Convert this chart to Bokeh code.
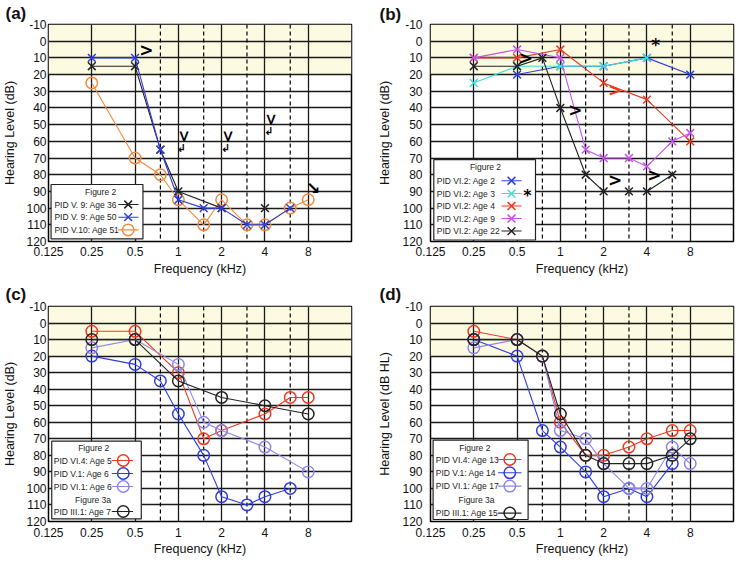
import math
from bokeh.plotting import figure
from bokeh.layouts import column, row
from bokeh.models import Range1d, FixedTicker, CustomJSTickFormatter, Span, BoxAnnotation
from bokeh.core.properties import value
from bokeh.embed import file_html
from bokeh.resources import INLINE

# ---------------- data ----------------
FREQ_TICKS = [0.125, 0.25, 0.5, 1, 2, 4, 8]
SOLID_F = [0.25, 0.5, 1, 2, 4, 8]
DASHED_F = [0.75, 1.5, 3, 6]
HL_TICKS = list(range(-10, 121, 10))

# Panel (a)
a36_f = [0.25, 0.5, 0.75, 1, 2, 4]
a36_hl = [15, 15, 65, 90, 100, 100]
a50_f = [0.25, 0.5, 0.75, 1, 1.5, 2, 3, 4, 6]
a50_hl = [10, 10, 65, 95, 100, 100, 110, 110, 100]
a51_f = [0.25, 0.5, 0.75, 1, 1.5, 2, 3, 4, 6, 8]
a51_hl = [25, 70, 80, 95, 110, 95, 110, 110, 100, 95]

# Panel (b)
b2_f = [0.5, 1, 2, 4, 8]
b2_hl = [20, 15, 15, 10, 20]
b3_f = [0.25, 0.5, 1, 2, 4]
b3_hl = [25, 15, 15, 15, 10]
b4_f = [0.25, 0.5, 1, 2, 4, 8]
b4_hl = [10, 10, 5, 25, 35, 60]
b9_f = [0.25, 0.5, 1, 1.5, 2, 3, 4, 6, 8]
b9_hl = [10, 5, 10, 65, 70, 70, 75, 60, 55]
b22_f = [0.25, 0.5, 0.75, 1, 1.5, 2, 3, 4, 6]
b22_hl = [15, 15, 10, 40, 80, 90, 90, 90, 80]

# Panel (c)
c_vi4_f = [0.25, 0.5, 1, 1.5, 2, 4, 6, 8]
c_vi4_hl = [5, 5, 30, 70, 65, 55, 45, 45]
c_v1_f = [0.25, 0.5, 0.75, 1, 1.5, 2, 3, 4, 6]
c_v1_hl = [20, 25, 35, 55, 80, 105, 110, 105, 100]
c_vi1_f = [0.25, 0.5, 1, 1.5, 2, 4, 8]
c_vi1_hl = [15, 10, 25, 60, 65, 75, 90]
c_iii1_f = [0.25, 0.5, 1, 2, 4, 8]
c_iii1_hl = [10, 10, 35, 45, 50, 55]

# Panel (d)
d_vi4_f = [0.25, 0.5, 0.75, 1, 1.5, 2, 3, 4, 6, 8]
d_vi4_hl = [5, 10, 20, 60, 80, 80, 75, 70, 65, 65]
d_v1_f = [0.25, 0.5, 0.75, 1, 1.5, 2, 3, 4, 6]
d_v1_hl = [10, 20, 65, 75, 90, 105, 100, 105, 85]
d_vi1_f = [0.25, 0.5, 0.75, 1, 1.5, 2, 3, 4, 6, 8]
d_vi1_hl = [15, 10, 20, 65, 70, 85, 100, 100, 75, 85]
d_iii1_f = [0.25, 0.5, 0.75, 1, 1.5, 2, 3, 4, 6, 8]
d_iii1_hl = [10, 10, 20, 55, 80, 85, 85, 85, 80, 70]

# No-response / annotation symbols
sym_a_f = [0.6, 8.7]
sym_a_hl = [5, 88]
sym_a_txt = [">", "\u2198"]
sym_a_rot_f = [1.09, 2.21, 4.42]
sym_a_rot_hl = [57, 57, 47]
sym_a_arrow_f = [1.05, 2.13, 4.26]
sym_a_arrow_hl = [64, 64, 54]

sym_b_f = [0.575, 1.27, 2.4, 4.5]
sym_b_hl = [10, 41, 83, 80]
sym_b_red_f = [2.4]
sym_b_red_hl = [29]
star_b_f = [4.6]
star_b_hl = [2]

BLACK = "#222222"
BLUE = "#2f3ddc"
ORANGE = "#f08a3c"
CYAN = "#3fdcdc"
RED = "#ea3a22"
MAGENTA = "#c552ea"
LPURPLE = "#8f86ea"

FONT = "Liberation Sans"


def make_panel(w, h, bl, br, bt, bb, letter, title_offset, title_standoff, ylabel,
               ylab_standoff, ytick_standoff, xtick_standoff, xlab_standoff):
    p = figure(width=w, height=h, x_axis_type="log",
               x_range=Range1d(0.125, 16), y_range=Range1d(120, -10),
               output_backend="svg", toolbar_location=None, tools="",
               min_border_left=bl, min_border_right=br,
               min_border_top=bt, min_border_bottom=bb)
    p.background_fill_color = "white"
    p.border_fill_color = "white"
    p.outline_line_color = "black"
    p.outline_line_width = 1.5
    p.outline_line_alpha = 1

    p.title.text = letter
    p.title.align = "left"
    p.title.offset = title_offset
    p.title.standoff = title_standoff
    p.title.text_font = FONT
    p.title.text_font_size = "17px"
    p.title.text_font_style = "bold"
    p.title.text_color = "#111111"

    p.xaxis.ticker = FixedTicker(ticks=FREQ_TICKS)
    p.xaxis.formatter = CustomJSTickFormatter(code="return String(tick)")
    p.yaxis.ticker = FixedTicker(ticks=HL_TICKS)
    p.yaxis.formatter = CustomJSTickFormatter(code="return String(tick)")
    for ax in (p.xaxis[0], p.yaxis[0]):
        ax.axis_line_color = None
        ax.major_tick_line_color = None
        ax.minor_tick_line_color = None
        ax.major_tick_out = 0
        ax.major_tick_in = 0
        ax.minor_tick_out = 0
        ax.minor_tick_in = 0
        ax.major_label_text_font = FONT
        ax.major_label_text_font_size = "12px"
        ax.major_label_text_color = "#111111"
        ax.axis_label_text_font = FONT
        ax.axis_label_text_font_size = "12.5px"
        ax.axis_label_text_font_style = "normal"
        ax.axis_label_text_color = "#111111"
    p.xaxis.major_label_standoff = xtick_standoff
    p.yaxis.major_label_standoff = ytick_standoff
    p.xaxis.axis_label = "Frequency (kHz)"
    p.xaxis.axis_label_standoff = xlab_standoff
    p.yaxis.axis_label = ylabel
    p.yaxis.axis_label_standoff = ylab_standoff

    p.xgrid.ticker = FixedTicker(ticks=SOLID_F)
    p.ygrid.ticker = FixedTicker(ticks=HL_TICKS)
    for g in (p.xgrid[0], p.ygrid[0]):
        g.grid_line_color = "#1a1a1a"
        g.grid_line_width = 1.3
        g.grid_line_alpha = 1

    band = BoxAnnotation(top=-10, bottom=20, fill_color="#fcfbe1", fill_alpha=1,
                         line_alpha=0, level="image")
    p.add_layout(band)
    for f in DASHED_F:
        p.add_layout(Span(location=f, dimension="height", line_color="black",
                          line_width=1.2, line_dash="4 3", level="underlay"))
    fw = w - bl - br
    fh = h - bt - bb
    return p, fw, fh


def to_data(px, py, fw, fh):
    return 0.125 * 2 ** (7.0 * px / fw), -10 + 130.0 * py / fh


def add_series(p, f, hl, color, marker, n_line=None):
    n = len(f) if n_line is None else n_line
    p.line(f[:n], hl[:n], line_color=color, line_width=1.1)
    sz = 11 if marker == "x" else 11.5
    p.scatter(f, hl, marker=marker, size=sz, line_color=color, fill_color=None,
              line_width=1.5)


def add_legend(p, fw, fh, dy, box, headers, rows, text_x, gx0, gx1, gc, series):
    l, t = to_data(box[0], box[1] + dy, fw, fh)
    r, b = to_data(box[2], box[3] + dy, fw, fh)
    p.quad(left=[l], right=[r], top=[t], bottom=[b], fill_color="white",
           line_color="#222222", line_width=1.2)
    for (txt, cx, cy) in headers:
        x, y = to_data(cx, cy + dy, fw, fh)
        p.text(x=[x], y=[y], text=[txt], text_font=value(FONT), text_font_size="8.5px",
               text_align="center", text_baseline="middle", text_color="#222222")
    for (ry, (label, color, marker)) in zip(rows, series):
        x, y = to_data(text_x, ry + dy, fw, fh)
        p.text(x=[x], y=[y], text=[label], text_font=value(FONT), text_font_size="8.5px",
               text_align="left", text_baseline="middle", text_color="#222222")
        x0, _ = to_data(gx0, ry + dy, fw, fh)
        x1, _ = to_data(gx1, ry + dy, fw, fh)
        xc, _ = to_data(gc, ry + dy, fw, fh)
        p.segment(x0=[x0], x1=[x1], y0=[y], y1=[y], line_color=color, line_width=1.1)
        sz = 11 if marker == "x" else 11.5
        p.scatter([xc], [y], marker=marker, size=sz, line_color=color, fill_color=None,
                  line_width=1.5)


# ---------------- panel (a) ----------------
pa, fwa, fha = make_panel(367, 278, 43, 16, 24, 37, "(a)", -43, 3,
                          "Hearing Level (dB)", 6, 2, 5, 3)
add_series(pa, a51_f, a51_hl, ORANGE, "circle")
add_series(pa, a36_f, a36_hl, BLACK, "x", n_line=5)
add_series(pa, a50_f, a50_hl, BLUE, "x")
pa.text(x=sym_a_f, y=sym_a_hl, text=sym_a_txt, text_font=value("DejaVu Sans"),
        text_font_size="17px", text_font_style="bold", text_align="center",
        text_baseline="middle", text_color="black")
pa.text(x=sym_a_rot_f, y=sym_a_rot_hl, text=[">"] * len(sym_a_rot_f), angle=-90, angle_units="deg",
        text_font=value("DejaVu Sans"), text_font_size="15px", text_font_style="bold",
        text_align="center", text_baseline="middle", text_color="black")
pa.text(x=sym_a_arrow_f, y=sym_a_arrow_hl, text=["\u21b2"] * len(sym_a_arrow_f),
        text_font=value("DejaVu Sans"), text_font_size="11px", text_font_style="bold",
        text_align="center", text_baseline="middle", text_color="black")
add_legend(pa, fwa, fha, 0, (2.6, 160, 96, 214.4), [("Figure 2", 53, 167.7)],
           [180, 192.7, 205.4], 6, 71, 91.5, 81,
           [("PID V. 9: Age 36", BLACK, "x"), ("PID V. 9: Age 50", BLUE, "x"),
            ("PID V.10: Age 51", ORANGE, "circle")])

# ---------------- panel (b) ----------------
pb, fwb, fhb = make_panel(368, 278, 63, 2, 21, 37, "(b)", -51, 1,
                          "Hearing Level (dB)", 7, 8, 5, 3)
add_series(pb, b2_f, b2_hl, BLUE, "x")
add_series(pb, b3_f, b3_hl, CYAN, "x")
add_series(pb, b4_f, b4_hl, RED, "x")
add_series(pb, b9_f, b9_hl, MAGENTA, "x")
add_series(pb, b22_f, b22_hl, BLACK, "x")
pb.text(x=sym_b_f, y=sym_b_hl, text=[">"] * len(sym_b_f), text_font=value("DejaVu Sans"),
        text_font_size="17px", text_font_style="bold", text_align="center",
        text_baseline="middle", text_color="black")
pb.text(x=sym_b_red_f, y=sym_b_red_hl, text=[">"], text_font=value("DejaVu Sans"),
        text_font_size="17px", text_font_style="bold", text_align="center",
        text_baseline="middle", text_color=RED)
pb.text(x=star_b_f, y=star_b_hl, text=["*"], text_font=value("DejaVu Sans"),
        text_font_size="17px", text_font_style="bold", text_align="center",
        text_baseline="middle", text_color="black")
add_legend(pb, fwb, fhb, 0, (3.3, 137, 105, 218.5), [("Figure 2", 55, 144)],
           [158.4, 171.4, 184, 196.7, 209.4], 6.3, 71, 91, 81,
           [("PID VI.2: Age 2", BLUE, "x"), ("PID VI.2: Age 3", CYAN, "x"),
            ("PID VI.2: Age 4", RED, "x"), ("PID VI.2: Age 9", MAGENTA, "x"),
            ("PID VI.2: Age 22", BLACK, "x")])
sx, sy = to_data(97, 173, fwb, fhb)
pb.text(x=[sx], y=[sy], text=["*"], text_font=value("DejaVu Sans"), text_font_size="16px",
        text_font_style="bold", text_align="center", text_baseline="middle", text_color="black")

# ---------------- panel (c) ----------------
pc, fwc, fhc = make_panel(367, 280, 43, 16, 28, 37, "(c)", -43, 5,
                          "Hearing Level (dB)", 6, 2, 6, 2)
add_series(pc, c_vi4_f, c_vi4_hl, RED, "circle")
add_series(pc, c_v1_f, c_v1_hl, BLUE, "circle")
add_series(pc, c_vi1_f, c_vi1_hl, LPURPLE, "circle")
add_series(pc, c_iii1_f, c_iii1_hl, BLACK, "circle")
add_legend(pc, fwc, fhc, fhc - 217, (3.3, 136.7, 94.3, 214.4),
           [("Figure 2", 46, 143.4), ("Figure 3a", 45.3, 195.3)],
           [156, 169, 182, 207], 5.3, 64.3, 86, 76,
           [("PID VI.4: Age 5", RED, "circle"), ("PID V.1: Age 6", BLUE, "circle"),
            ("PID VI.1: Age 6", LPURPLE, "circle"), ("PID III.1: Age 7", BLACK, "circle")])

# ---------------- panel (d) ----------------
pd_, fwd, fhd = make_panel(368, 280, 63, 2, 28, 37, "(d)", -51, 5,
                           "Hearing Level (dB HL)", 7, 8, 6, 2)
add_series(pd_, d_vi4_f, d_vi4_hl, RED, "circle")
add_series(pd_, d_v1_f, d_v1_hl, BLUE, "circle")
add_series(pd_, d_vi1_f, d_vi1_hl, LPURPLE, "circle")
add_series(pd_, d_iii1_f, d_iii1_hl, BLACK, "circle")
add_legend(pd_, fwd, fhd, fhd - 217, (2.6, 135.6, 97.6, 215),
           [("Figure 2", 44.3, 143.3), ("Figure 3a", 46, 195.6)],
           [155, 168.3, 181.6, 208.6], 5.3, 67.6, 91, 79.3,
           [("PID VI.4: Age 13", RED, "circle"), ("PID V.1: Age 14", BLUE, "circle"),
            ("PID VI.1: Age 17", LPURPLE, "circle"), ("PID III.1: Age 15", BLACK, "circle")])

layout = column(row(pa, pb), row(pc, pd_))
open("out.html", "w").write(file_html(layout, INLINE))
